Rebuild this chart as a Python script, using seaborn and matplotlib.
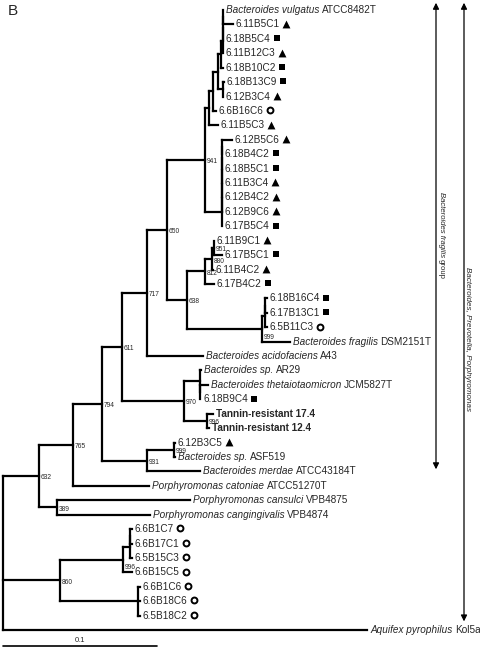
import matplotlib
matplotlib.use("Agg")
import matplotlib.pyplot as plt
import numpy as np
import pandas as pd
import seaborn as sns

# leaves, top to bottom
leaf_names = [
    "Bacteroides vulgatus ATCC8482T", "6.11B5C1", "6.18B5C4", "6.11B12C3", "6.18B10C2",
    "6.18B13C9", "6.12B3C4", "6.6B16C6", "6.11B5C3",
    "6.12B5C6", "6.18B4C2", "6.18B5C1", "6.11B3C4", "6.12B4C2", "6.12B9C6", "6.17B5C4",
    "6.11B9C1", "6.17B5C1", "6.11B4C2", "6.17B4C2",
    "6.18B16C4", "6.17B13C1", "6.5B11C3", "Bacteroides fragilis DSM2151T",
    "Bacteroides acidofaciens A43",
    "Bacteroides sp. AR29", "Bacteroides thetaiotaomicron JCM5827T", "6.18B9C4",
    "Tannin-resistant 17.4", "Tannin-resistant 12.4",
    "6.12B3C5", "Bacteroides sp. ASF519", "Bacteroides merdae ATCC43184T",
    "Porphyromonas catoniae ATCC51270T", "Porphyromonas cansulci VPB4875",
    "Porphyromonas cangingivalis VPB4874",
    "6.6B1C7", "6.6B17C1", "6.5B15C3", "6.6B15C5", "6.6B1C6", "6.6B18C6", "6.5B18C2",
    "Aquifex pyrophilus Kol5a",
]
leaf_marks = [
    "", "tri", "sq", "tri", "sq", "sq", "tri", "circ", "tri",
    "tri", "sq", "sq", "tri", "tri", "tri", "sq",
    "tri", "sq", "tri", "sq",
    "sq", "sq", "circ", "",
    "",
    "", "", "sq",
    "", "",
    "tri", "", "",
    "", "", "",
    "circ", "circ", "circ", "circ", "circ", "circ", "circ",
    "",
]
leaf_parent = [
    "a1", "a1", "a2", "g1", "g2", "g3", "g3", "g5", "g6",
    "x1", "x1", "x2", "x3", "x4", "x5", "x6",
    "n951", "n951", "n880", "n812",
    "f1", "f1", "F1", "F2",
    "n717",
    "T", "t1", "t1",
    "n996a", "n996a",
    "n999b", "n999b", "n931",
    "n765", "n389", "n389",
    "s1", "s1", "s2", "n996b", "L", "L", "L",
    "root",
]
leaf_length = [
    0, 0.0065, 0, 0, 0.0013, 0.0006, 0, 0.0019, 0.0058,
    0.0065, 0, 0, 0, 0, 0, 0,
    0, 0.0052, 0.0006, 0.0058,
    0.0013, 0.0013, 0.0013, 0.0182,
    0.0364,
    0.0006, 0.0052, 0,
    0.0039, 0.0013,
    0.0006, 0.0006, 0.0344,
    0.0494, 0.0864, 0.0604,
    0.0013, 0.0013, 0.0013, 0.0058, 0.0013, 0.0013, 0.0013,
    0.2364,
]

# internal nodes
node_names = [
    "n632", "n765", "n794", "n611", "n717", "n650", "n941",
    "g6", "g5", "g4", "g2", "g1", "a2", "a1", "g3",
    "x6", "x5", "x4", "x3", "x2", "x1",
    "n638", "n812", "n880", "n951", "F2", "F1", "f1",
    "n970", "T", "t1", "n996a",
    "n931", "n999b", "n389", "n860", "n996b", "s2", "s1", "L",
]
node_parent = [
    "root", "n632", "n765", "n794", "n611", "n717", "n650",
    "n941", "g6", "g5", "g4", "g2", "g1", "a2", "g4",
    "n941", "x6", "x5", "x4", "x3", "x2",
    "n650", "n638", "n812", "n880", "n638", "F2", "F1",
    "n611", "n970", "T", "n970",
    "n794", "n931", "n632", "root", "n860", "n996b", "s2", "n860",
]
node_length = [
    0.0234, 0.0221, 0.0188, 0.0130, 0.0162, 0.0130, 0.0247,
    0.0026, 0.0026, 0.0032, 0.0019, 0.0013, 0, 0, 0.0032,
    0.0110, 0, 0, 0, 0, 0,
    0.0130, 0.0117, 0.0045, 0.0013, 0.0487, 0.0019, 0,
    0.0403, 0.0104, 0, 0.0149,
    0.0292, 0.0175, 0.0117, 0.0370, 0.0409, 0.0045, 0, 0.0506,
]
node_support = [
    632, 765, 794, 611, 717, 650, 941,
    None, None, None, None, None, None, None, None,
    None, None, None, None, None, None,
    638, 812, 880, 951, 999, None, None,
    970, None, None, 996,
    931, 999, 389, 860, 996, None, None, None,
]

sns.set_theme(style="white")
plt.rcParams["font.family"] = ["Liberation Sans", "DejaVu Sans"]

PX = 0.1 / 154    # tree units per pixel
ROW = 14.42       # pixels per leaf row
FS = 7.2

# tree layout
parent = dict(zip(leaf_names, leaf_parent))
parent.update(zip(node_names, node_parent))
length = dict(zip(leaf_names, leaf_length))
length.update(zip(node_names, node_length))
children = {}
for child, par in parent.items():
    children.setdefault(par, []).append(child)

depth = {"root": 0.0}
def get_depth(n):
    if n not in depth:
        depth[n] = get_depth(parent[n]) + length[n]
    return depth[n]
for n in parent:
    get_depth(n)

ypos = {name: i for i, name in enumerate(leaf_names)}
def get_y(n):
    if n not in ypos:
        ys = [get_y(c) for c in children[n]]
        ypos[n] = (min(ys) + max(ys)) / 2
    return ypos[n]
get_y("root")

rows = []
seg = 0
for n in parent:
    if length[n] > 0:
        rows.append({"seg": seg, "x": depth[parent[n]], "y": ypos[n]})
        rows.append({"seg": seg, "x": depth[n], "y": ypos[n]})
        seg += 1
for n, kids in children.items():
    ys = [ypos[c] for c in kids]
    if max(ys) > min(ys):
        rows.append({"seg": seg, "x": depth[n], "y": min(ys)})
        rows.append({"seg": seg, "x": depth[n], "y": max(ys)})
        seg += 1
seg_df = pd.DataFrame(rows)

fig = plt.figure(figsize=(4.8, 6.48), dpi=100)
ax = fig.add_axes([0, 0, 1, 1])
sns.lineplot(data=seg_df, x="x", y="y", units="seg", estimator=None, sort=False,
             color="black", linewidth=1.6, solid_capstyle="projecting",
             legend=False, ax=ax)

XLIM = (-3 * PX, 477 * PX)
YLIM = ((648 - 10) / ROW, -10 / ROW)
ax.set_xlim(*XLIM)
ax.set_ylim(*YLIM)
ax.set_axis_off()
fig.canvas.draw()
inv = ax.transData.inverted()


def px_to_x(px):
    return inv.transform((px, 0))[0]


# leaf labels: species names in italics, strain codes upright
last_text = {}
for name in leaf_names:
    x0 = depth[name] + 3 * PX
    if name[0].isdigit() or name.startswith("Tannin"):
        bold = "bold" if name.startswith("Tannin") else "normal"
        last_text[name] = ax.text(x0, ypos[name], name, fontsize=FS, fontweight=bold,
                                  ha="left", va="center")
        continue
    words = name.split(" ")
    t_it = ax.text(x0, ypos[name], " ".join(words[:2]), fontsize=FS, style="italic",
                   ha="left", va="center")
    bb = t_it.get_window_extent(renderer=fig.canvas.get_renderer())
    last_text[name] = ax.text(px_to_x(bb.x1 + 2.4), ypos[name], " ".join(words[2:]),
                              fontsize=FS, ha="left", va="center")

# bootstrap values, a few pushed down a little as in the original
support_nudge = {"F2": 0.45, "n996b": 0.4, "n880": 0.1}
for n, sup in zip(node_names, node_support):
    if sup is not None:
        ax.text(depth[n] + 2 * PX, ypos[n] + 0.12 + support_nudge.get(n, 0), str(sup),
                fontsize=4.8, ha="left", va="center")

# isolate markers after each label
fig.canvas.draw()
mark_rows = []
for name, mark in zip(leaf_names, leaf_marks):
    if mark:
        bb = last_text[name].get_window_extent()
        mark_rows.append({"x": px_to_x(bb.x1 + 6), "y": ypos[name] - 0.05, "mark": mark})
marks_df = pd.DataFrame(mark_rows)

sns.scatterplot(data=marks_df[marks_df["mark"] == "tri"], x="x", y="y", marker="^",
                s=32, color="black", edgecolor="black", linewidth=0, legend=False, ax=ax)
sns.scatterplot(data=marks_df[marks_df["mark"] == "sq"], x="x", y="y", marker="s",
                s=24, color="black", edgecolor="black", linewidth=0, legend=False, ax=ax)
sns.scatterplot(data=marks_df[marks_df["mark"] == "circ"], x="x", y="y", marker="o",
                s=18, color="white", edgecolor="black", linewidth=1.4, legend=False, ax=ax)

# group brackets
inner_top = ypos[leaf_names[0]] - 0.5
inner_bot = ypos["Bacteroides merdae ATCC43184T"] - 0.15
outer_bot = ypos["6.5B18C2"] + 0.4
x_in = 433 * PX
x_out = 461 * PX
arrow = dict(arrowstyle="<|-|>", color="black", lw=0.9, mutation_scale=9,
             shrinkA=0, shrinkB=0)
ax.annotate("", xy=(x_in, inner_top), xytext=(x_in, inner_bot), arrowprops=arrow)
ax.annotate("", xy=(x_out, inner_top), xytext=(x_out, outer_bot), arrowprops=arrow)

# inner label: italic genus/species followed by upright "group", read top to bottom
mid_in = (inner_top + inner_bot) / 2
t_grp_it = ax.text(438 * PX, mid_in - 0.8, "Bacteroides fragilis", style="italic",
                   rotation=-90, fontsize=5.6, ha="center", va="center")
fig.canvas.draw()
bb = t_grp_it.get_window_extent()
y_after = inv.transform((0, bb.y0 - 2))[1]
ax.text(438 * PX, y_after, "group", rotation=-90, fontsize=5.6, ha="center", va="top")
ax.text(465 * PX, 22.8, "Bacteroides, Prevotella, Porphyromonas", style="italic",
        rotation=-90, fontsize=5.8, ha="center", va="center")

# scale bar
bar_df = pd.DataFrame({"x": [0, 0.1], "y": [44.1, 44.1]})
sns.lineplot(data=bar_df, x="x", y="y", color="black", linewidth=1.2, legend=False, ax=ax)
ax.text(0.05, 43.95, "0.1", fontsize=5.5, ha="center", va="bottom")

ax.text(0.017, 0.994, "B", transform=ax.transAxes, fontsize=11, ha="left", va="top")

ax.set_xlim(*XLIM)
ax.set_ylim(*YLIM)
ax.set_axis_off()
fig.savefig("out.png", dpi=100)
